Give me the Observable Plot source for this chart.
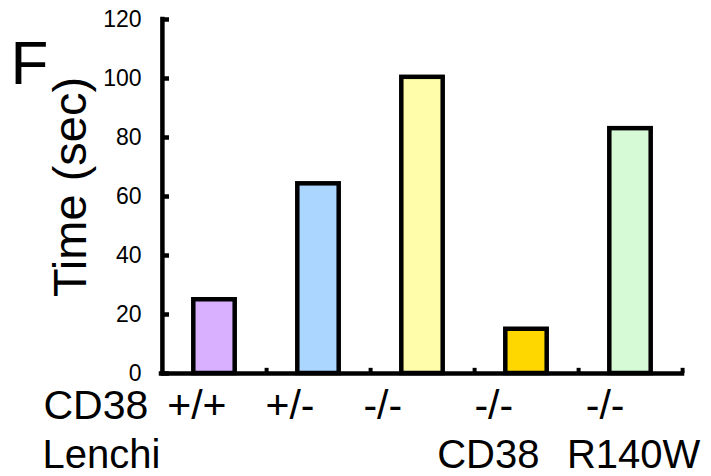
<!DOCTYPE html>
<html>
<head>
<meta charset="utf-8">
<script src="https://cdn.jsdelivr.net/npm/d3@7"></script>
<script src="https://cdn.jsdelivr.net/npm/@observablehq/plot@0.6"></script>
<style>
  html, body { margin: 0; padding: 0; background: #fff; }
  #chart svg { display: block; }
</style>
</head>
<body>
<div id="chart"></div>
<script>
// ---- data ----
const genotypes = ["+/+", "+/-", "-/-", "-/-", "-/-"];
const lenchiLabels = ["", "", "", "CD38", "R140W"];
const timeSec = [25, 64.3, 100.4, 15, 83];
const barColors = ["#D8B0FF", "#ABD6FF", "#FFFDAA", "#FFD700", "#D5FAD5"];
const yTicks = [0, 20, 40, 60, 80, 100, 120];
const rowTitles = ["CD38", "Lenchi"];
const panelLetter = "F";
const yLabel = "Time (sec)";

const categories = genotypes.map((g, i) => g + "|" + lenchiLabels[i]);
const rows = categories.map((c, i) => ({cat: c, value: timeSec[i]}));

// ---- layout ----
const W = 711, H = 476;
const mL = 161, mR = 29, mT = 19, mB = 103;
const bw = (W - mL - mR) / categories.length;
const genoDx = [-17.6, -28.5, -39.7, -32.7, -25.4];
const lenchiDx = [0, 0, 0, -38.2, 3.1];
const font = "'Liberation Sans', Arial, Helvetica, sans-serif";

const marks = [
  Plot.barY(rows, {
    x: "cat", y: "value", fill: "cat",
    stroke: "black", strokeWidth: 4.5,
    insetLeft: 31.3, insetRight: 31.3
  }),
  // axis lines
  Plot.ruleY([0], {strokeWidth: 4.5, strokeLinecap: "square", stroke: "black"}),
  Plot.ruleX([categories[0]], {dx: -bw / 2, y1: 0, y2: 120, strokeWidth: 4.5, strokeLinecap: "square", stroke: "black"}),
  // inward y ticks
  Plot.tickY(yTicks, {y: d => d, insetRight: (W - mL - mR) - 8, strokeWidth: 4.5, stroke: "black"}),
  // x ticks at band ends
  Plot.ruleX(categories, {dx: bw / 2, y1: 0, y2: 1.75, strokeWidth: 4, stroke: "black"}),
  // y tick labels
  Plot.axisY(yTicks, {tickSize: 0, tickPadding: 20, fontSize: 23, label: null, fill: "black"}),
  // y label
  Plot.text([yLabel], {
    frameAnchor: "left", rotate: -90, textAnchor: "middle", lineAnchor: "bottom",
    dx: 85 - mL, dy: -9.5, fontSize: 47, fill: "black"
  }),
  // panel letter
  Plot.text([panelLetter], {
    frameAnchor: "top-left", textAnchor: "start", lineAnchor: "bottom",
    dx: 10 - mL, dy: 83 - mT, fontSize: 62, fill: "black"
  }),
  // row titles
  Plot.text([rowTitles[0]], {
    frameAnchor: "bottom-left", textAnchor: "start", lineAnchor: "bottom",
    dx: 43 - mL, dy: 45, fontSize: 41, fill: "black"
  }),
  Plot.text([rowTitles[1]], {
    frameAnchor: "bottom-left", textAnchor: "start", lineAnchor: "bottom",
    dx: 42 - mL, dy: 94.5, fontSize: 40, fill: "black"
  })
];

categories.forEach((c, i) => {
  marks.push(Plot.text([c], {
    x: d => d, text: () => genotypes[i], frameAnchor: "bottom",
    textAnchor: "middle", lineAnchor: "bottom",
    dx: genoDx[i], dy: 45, fontSize: 41, fill: "black"
  }));
  if (lenchiLabels[i]) {
    marks.push(Plot.text([c], {
      x: d => d, text: () => lenchiLabels[i], frameAnchor: "bottom",
      textAnchor: "middle", lineAnchor: "bottom",
      dx: lenchiDx[i], dy: 94.5, fontSize: 40, fill: "black"
    }));
  }
});

const chart = Plot.plot({
  width: W, height: H,
  marginLeft: mL, marginRight: mR, marginTop: mT, marginBottom: mB,
  style: {fontFamily: font, background: "white", color: "black", overflow: "visible"},
  x: {domain: categories, padding: 0, axis: null},
  y: {domain: [0, 120], axis: null},
  color: {domain: categories, range: barColors},
  marks
});
document.getElementById("chart").appendChild(chart);
</script>
</body>
</html>
